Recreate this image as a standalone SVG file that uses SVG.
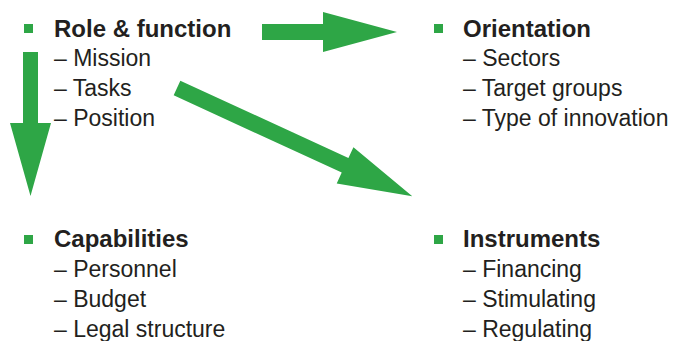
<svg xmlns="http://www.w3.org/2000/svg" width="675" height="341" viewBox="0 0 675 341">
<style>
.t{font-family:"Liberation Sans",Arial,sans-serif;font-weight:bold;font-size:24px;fill:#231f20}
.s{font-family:"Liberation Sans",Arial,sans-serif;font-size:23px;fill:#231f20}
.b{fill:#2ea646}
.a{fill:#2ea646}
</style>
<rect width="675" height="341" fill="#fff"/>
<g id="connectors">
<polygon class="a" points="262,24 323,24 323,12 397,32 323,52 323,40 262,40"/>
<polygon class="a" points="23,52 38,52 38,123 51,123 30.5,196 10,123 23,123"/>
<polygon class="a" transform="translate(177,88) rotate(24.7)" points="0,-8 185,-8 185,-20 259,0 185,20 185,8 0,8"/>
</g>
<g id="role">
<rect class="b" x="24" y="24" width="9" height="9"/>
<text class="t" x="54" y="37">Role &amp; function</text>
<text class="s" x="54" y="66">– Mission</text>
<text class="s" x="54" y="96">– Tasks</text>
<text class="s" x="54" y="126">– Position</text>
</g>
<g id="orientation">
<rect class="b" x="434" y="24" width="9" height="9"/>
<text class="t" x="463" y="37">Orientation</text>
<text class="s" x="463" y="66">– Sectors</text>
<text class="s" x="463" y="96">– Target groups</text>
<text class="s" x="463" y="126">– Type of innovation</text>
</g>
<g id="capabilities">
<rect class="b" x="24" y="235" width="9" height="9"/>
<text class="t" x="54" y="247">Capabilities</text>
<text class="s" x="54" y="277">– Personnel</text>
<text class="s" x="54" y="307">– Budget</text>
<text class="s" x="54" y="337">– Legal structure</text>
</g>
<g id="instruments">
<rect class="b" x="434" y="235" width="9" height="9"/>
<text class="t" x="463" y="247">Instruments</text>
<text class="s" x="463" y="277">– Financing</text>
<text class="s" x="463" y="307">– Stimulating</text>
<text class="s" x="463" y="337">– Regulating</text>
</g>
</svg>
